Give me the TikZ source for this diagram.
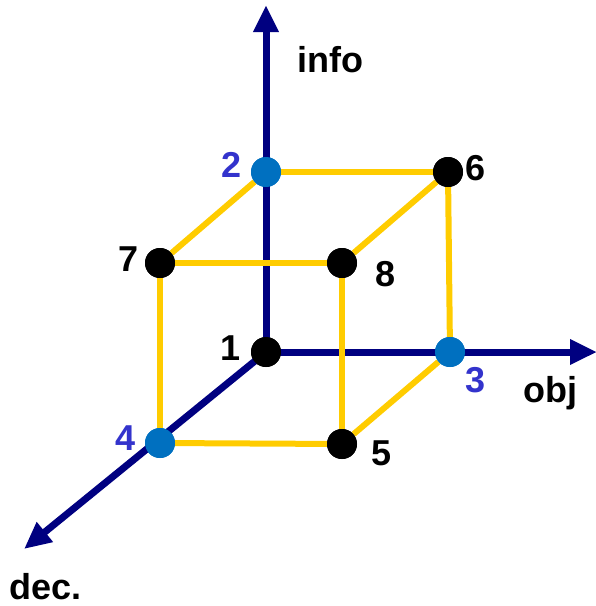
\documentclass[tikz,border=0pt]{standalone}
\usepackage{fontspec}
\setmainfont{Liberation Sans}
\usetikzlibrary{arrows.meta}
\definecolor{axisblue}{HTML}{000080}
\definecolor{edgeyellow}{HTML}{FFCC00}
\definecolor{ptblue}{HTML}{0070C0}
\definecolor{lblblue}{HTML}{3333CC}
\tikzset{
  axis/.style={draw=axisblue, line width=7pt, -{Triangle[length=27pt,width=24pt]}},
  edge/.style={draw=edgeyellow, line width=6pt},
  vtx/.style={circle, fill=black, minimum size=30pt, inner sep=0pt},
  bvtx/.style={vtx, fill=ptblue},
  lbl/.style={font=\fontsize{36pt}{36pt}\selectfont\bfseries, text=black, inner sep=0pt},
  blbl/.style={lbl, text=lblblue},
}
\begin{document}
\begin{tikzpicture}[x=1pt, y=-1pt]
  \useasboundingbox (0,0) rectangle (596,606);
  % vertices of the cube
  \node[vtx]  (n1) at (266,352) {};
  \node[bvtx] (n2) at (266,172) {};
  \node[bvtx] (n3) at (450,352) {};
  \node[bvtx] (n4) at (160,443) {};
  \node[vtx]  (n5) at (342,444) {};
  \node[vtx]  (n6) at (448,172) {};
  \node[vtx]  (n7) at (160,263) {};
  \node[vtx]  (n8) at (342,263) {};
  % axis end points
  \coordinate (tinfo) at (266,5);
  \coordinate (tobj) at (597,352);
  \coordinate (tdec) at (24,549);
  % axes
  \draw[axis] (n1.center) -- (tinfo);
  \draw[axis] (n1.center) -- (tobj);
  \draw[axis] (n1.center) -- (tdec);
  % cube edges
  \draw[edge] (n2) -- (n6);
  \draw[edge] (n2) -- (n7);
  \draw[edge] (n7) -- (n8);
  \draw[edge] (n8) -- (n6);
  \draw[edge] (n7) -- (n4);
  \draw[edge] (n8) -- (n5);
  \draw[edge] (n6) -- (n3);
  \draw[edge] (n4) -- (n5);
  \draw[edge] (n5) -- (n3);
  % redraw vertices on top
  \foreach \v/\s in {n1/vtx,n2/bvtx,n3/bvtx,n4/bvtx,n5/vtx,n6/vtx,n7/vtx,n8/vtx}
    \node[\s] at (\v) {};
  % vertex labels
  \node[lbl]  (l1) at (231,348) {1};
  \node[blbl] (l2) at (232,165) {2};
  \node[blbl] (l3) at (476,380) {3};
  \node[blbl] (l4) at (126,438) {4};
  \node[lbl]  (l5) at (382,453) {5};
  \node[lbl]  (l6) at (476,168) {6};
  \node[lbl]  (l7) at (129,259) {7};
  \node[lbl]  (l8) at (386,274) {8};
  % axis labels
  \node[lbl, anchor=base west] (linfo) at (297,72) {info};
  \node[lbl, anchor=base west] (lobj) at (523,402) {obj};
  \node[lbl, anchor=base west, text depth=0pt] (ldec) at (9,599) {dec.};
\end{tikzpicture}
\end{document}
